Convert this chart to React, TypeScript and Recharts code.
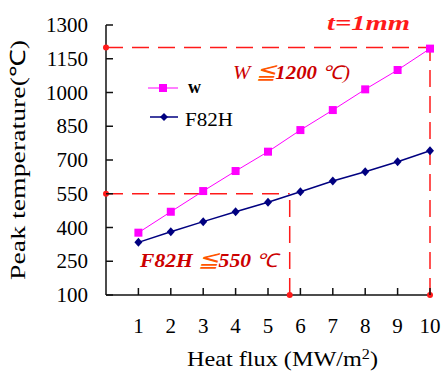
import React from "react";
import {
  LineChart,
  Line,
  XAxis,
  YAxis,
  ReferenceLine,
  ReferenceDot,
} from "recharts";

// heat flux (MW/m2) and peak temperatures (C)
const heatFlux = [1, 2, 3, 4, 5, 6, 7, 8, 9, 10];
const wTemp = [377, 470, 562, 651, 737, 833, 922, 1014, 1100, 1195];
const f82hTemp = [334, 381, 426, 470, 512, 559, 607, 648, 692, 741];

const xTicks = [1, 2, 3, 4, 5, 6, 7, 8, 9, 10];
const yTicks = [100, 250, 400, 550, 700, 850, 1000, 1150, 1300];

// limits marked with dashed lines
const wLimit = 1200;
const f82hLimit = 550;
const f82hLimitFlux = 5.67;
const maxFlux = 10;

const data = heatFlux.map((x, i) => ({ x, w: wTemp[i], f82h: f82hTemp[i] }));

const FONT = "'Liberation Serif', 'Times New Roman', serif";
const RED = "#ff1a1a";

const XTick = ({ x, y, payload }: any) => (
  <g>
    <line x1={x} x2={x} y1={y} y2={y - 7} stroke="#111" strokeWidth={1.5} />
    <text x={x} y={y + 38} textAnchor="middle" fontSize={21} fontFamily={FONT} fill="#000">
      {payload.value}
    </text>
  </g>
);

const YTick = ({ x, y, payload }: any) => (
  <g>
    <line x1={x} x2={x + 7} y1={y} y2={y} stroke="#111" strokeWidth={1.5} />
    <text x={x - 18} y={y + 7} textAnchor="end" fontSize={21} fontFamily={FONT} fill="#000">
      {payload.value}
    </text>
  </g>
);

const SquareDot = (p: any) => (
  <rect key={`w-${p.index}`} x={p.cx - 4} y={p.cy - 4} width={8} height={8} fill="#ff00ff" />
);

const DiamondDot = (p: any) => (
  <polygon
    key={`f-${p.index}`}
    points={`${p.cx},${p.cy - 4.5} ${p.cx + 4},${p.cy} ${p.cx},${p.cy + 4.5} ${p.cx - 4},${p.cy}`}
    fill="#000080"
  />
);

const dash = "17 9";

export default function App() {
  return (
    <div style={{ position: "absolute", left: 0, top: 0, width: 442, height: 373, background: "#fff" }}>
      <LineChart
        width={442}
        height={373}
        data={data}
        margin={{ top: 25, right: 12, bottom: 38, left: 40 }}
      >
        <XAxis
          dataKey="x"
          type="number"
          domain={[0, 10]}
          ticks={xTicks}
          interval={0}
          tickSize={0}
          tickMargin={0}
          tickLine={false}
          height={40}
          axisLine={{ stroke: "#111", strokeWidth: 1.5 }}
          tick={<XTick />}
        />
        <YAxis
          type="number"
          domain={[100, 1300]}
          ticks={yTicks}
          interval={0}
          tickSize={0}
          tickMargin={0}
          tickLine={false}
          width={66}
          axisLine={{ stroke: "#111", strokeWidth: 1.5 }}
          tick={<YTick />}
        />
        <ReferenceLine
          segment={[{ x: 0, y: wLimit }, { x: maxFlux, y: wLimit }]}
          stroke={RED}
          strokeWidth={1.5}
          strokeDasharray={dash}
        />
        <ReferenceLine
          segment={[{ x: maxFlux, y: 100 }, { x: maxFlux, y: wLimit }]}
          stroke={RED}
          strokeWidth={1.5}
          strokeDasharray={dash}
        />
        <ReferenceLine
          segment={[{ x: 0, y: f82hLimit }, { x: f82hLimitFlux, y: f82hLimit }]}
          stroke={RED}
          strokeWidth={1.5}
          strokeDasharray={dash}
        />
        <ReferenceLine
          segment={[{ x: f82hLimitFlux, y: 100 }, { x: f82hLimitFlux, y: f82hLimit }]}
          stroke={RED}
          strokeWidth={1.5}
          strokeDasharray={dash}
        />
        <Line
          dataKey="w"
          stroke="#ff00ff"
          strokeWidth={1}
          dot={SquareDot}
          activeDot={false}
          isAnimationActive={false}
        />
        <Line
          dataKey="f82h"
          stroke="#000080"
          strokeWidth={1.5}
          dot={DiamondDot}
          activeDot={false}
          isAnimationActive={false}
        />
        <ReferenceDot x={0} y={wLimit} r={3} fill={RED} stroke="none" />
        <ReferenceDot x={0} y={f82hLimit} r={3} fill={RED} stroke="none" />
        <ReferenceDot x={f82hLimitFlux} y={100} r={3} fill={RED} stroke="none" />
        <ReferenceDot x={maxFlux} y={100} r={3} fill={RED} stroke="none" />
      </LineChart>

      <svg
        width={442}
        height={373}
        style={{ position: "absolute", left: 0, top: 0, pointerEvents: "none" }}
        fontFamily={FONT}
      >
        <text
          x={327}
          y={30}
          fontSize={22}
          fontWeight="bold"
          fontStyle="italic"
          fill={RED}
          textLength={83}
          lengthAdjust="spacingAndGlyphs"
        >
          t=1mm
        </text>
        <text
          x={233}
          y={79}
          fontSize={19}
          fontStyle="italic"
          fill="#cc0000"
          textLength={117}
          lengthAdjust="spacingAndGlyphs"
        >
          W <tspan fill="#ff5500" fontSize={22}>≦</tspan>
          <tspan fontWeight="bold">1200</tspan> ℃)
        </text>
        <text
          x={140}
          y={267}
          fontSize={19}
          fontStyle="italic"
          fill="#cc0000"
          textLength={138}
          lengthAdjust="spacingAndGlyphs"
        >
          <tspan fontWeight="bold">F82H</tspan> <tspan fill="#ff5500" fontSize={22}>≦</tspan>
          <tspan fontWeight="bold">550</tspan> ℃
        </text>

        {/* legend */}
        <line x1={148} x2={178} y1={88} y2={88} stroke="#ff00ff" strokeWidth={1} />
        <rect x={159} y={84} width={8} height={8} fill="#ff00ff" />
        <text x={188} y={93} fontSize={18} fontWeight="bold" fill="#000">
          w
        </text>
        <line x1={150} x2={178} y1={117} y2={117} stroke="#000080" strokeWidth={1.5} />
        <polygon points="164,113 168,117 164,121 160,117" fill="#000080" />
        <text x={185} y={126} fontSize={19} fill="#000" textLength={48} lengthAdjust="spacingAndGlyphs">
          F82H
        </text>

        <text
          x={187}
          y={366}
          fontSize={21}
          fill="#000"
          textLength={191}
          lengthAdjust="spacingAndGlyphs"
        >
          Heat flux (MW/m<tspan dy={-7} fontSize={14}>2</tspan>
          <tspan dy={7}>)</tspan>
        </text>
        <text
          transform="translate(25,160) rotate(-90)"
          textAnchor="middle"
          fontSize={21}
          fill="#000"
          textLength={240}
          lengthAdjust="spacingAndGlyphs"
        >
          Peak temperature(℃)
        </text>
      </svg>
    </div>
  );
}
